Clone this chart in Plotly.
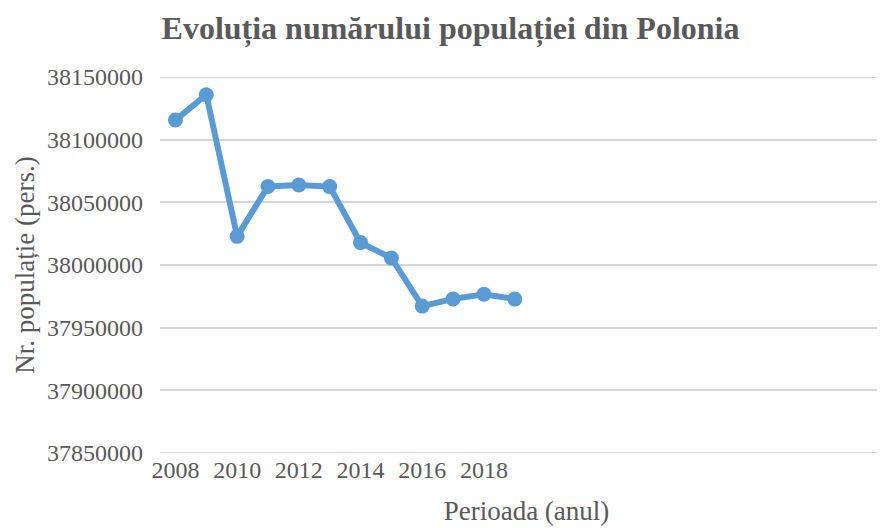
import plotly.graph_objects as go

years = [2008, 2009, 2010, 2011, 2012, 2013, 2014, 2015, 2016, 2017, 2018, 2019]
population = [38115641, 38135876, 38022869, 38062718, 38063792, 38062535,
              38017856, 38005614, 37967209, 37972964, 37976687, 37972812]
x_tick_labels = [2008, 2010, 2012, 2014, 2016, 2018]
y_tick_values = [37850000, 37900000, 37950000, 38000000, 38050000, 38100000, 38150000]

title_text = "Evoluția numărului populației din Polonia"
x_title = "Perioada (anul)"
y_title = "Nr. populație (pers.)"

blue = "#5B9BD5"
gray = "#595959"
font_family = "Liberation Serif, Times New Roman, serif"

fig = go.Figure()
fig.add_trace(go.Scatter(
    x=years, y=population, mode="lines+markers",
    line=dict(color=blue, width=6),
    marker=dict(color=blue, size=15),
    showlegend=False, cliponaxis=False,
))

# page body has an 8px default margin, so margins are reduced by 8px
fig.update_layout(
    width=885, height=528,
    margin=dict(l=152, r=0, t=69, b=83),
    paper_bgcolor="white", plot_bgcolor="white",
    font=dict(family=font_family, color=gray, size=24),
    title=dict(text="<b>" + title_text + "</b>", x=0.5, xanchor="center",
               y=1 - 20 / 528, yanchor="middle",
               font=dict(family=font_family, size=32, color=gray)),
    xaxis=dict(
        range=[2007.5, 2031.26],
        tickvals=x_tick_labels, ticktext=[str(v) for v in x_tick_labels],
        showgrid=False, zeroline=False, showline=False, ticks="",
        tickfont=dict(size=24, color=gray),
        title=dict(text=x_title, font=dict(size=27, color=gray), standoff=19),
    ),
    yaxis=dict(
        range=[37850000, 38150000],
        tickvals=y_tick_values, ticktext=[str(v) for v in y_tick_values],
        showgrid=True, gridcolor="#D6D6D6", gridwidth=2,
        zeroline=False, showline=False, ticks="",
        ticklabelstandoff=16,
        tickfont=dict(size=24, color=gray),
        title=dict(text=y_title, font=dict(size=27, color=gray), standoff=4),
    ),
)
fig.add_hline(y=y_tick_values[-1], line=dict(color="#D6D6D6", width=2), layer="below")
fig.add_hline(y=y_tick_values[0], line=dict(color="#D6D6D6", width=2), layer="below")

fig.write_html("out.html")
